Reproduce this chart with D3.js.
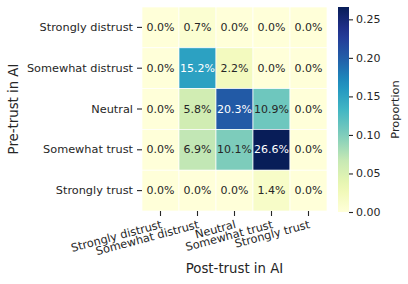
<!DOCTYPE html>
<html><head><meta charset="utf-8">
<script src="https://cdn.jsdelivr.net/npm/d3@7"></script>
<style>body{margin:0;background:#fff}svg{display:block}text{font-family:"DejaVu Sans",sans-serif;fill:#262626}</style>
</head><body><svg id="c" width="408" height="284"></svg>
<script>
const rowLabels = ["Strongly distrust","Somewhat distrust","Neutral","Somewhat trust","Strongly trust"];
const colLabels = ["Strongly distrust","Somewhat distrust","Neutral","Somewhat trust","Strongly trust"];
const values = [
  [0.000,0.007,0.000,0.000,0.000],
  [0.000,0.152,0.022,0.000,0.000],
  [0.000,0.058,0.203,0.109,0.000],
  [0.000,0.069,0.101,0.266,0.000],
  [0.000,0.000,0.000,0.014,0.000]
];
const cbTicks = [0,0.05,0.10,0.15,0.20,0.25];
const ylgnbu = ["#ffffd9","#edf8b1","#c7e9b4","#7fcdbb","#41b6c4","#1d91c0","#225ea8","#253494","#081d58"];

const svg = d3.select("#c");
const L=142,R=327,T=7,B=211;
const FS=11.3, CFS=11, TFS=13.3;
const vmax = d3.max(values.flat());
const color = d3.scaleLinear().domain(d3.range(9).map(i=>i*vmax/8)).range(ylgnbu).interpolate(d3.interpolateRgb).clamp(true);
const x = d3.scaleBand().domain(colLabels.map((d,i)=>i)).range([L,R]);
const y = d3.scaleBand().domain(rowLabels.map((d,i)=>i)).range([T,B]);
const cells=[];
values.forEach((r,i)=>r.forEach((v,j)=>cells.push({i,j,v})));
svg.append("g").selectAll("rect").data(cells).join("rect")
  .attr("x",d=>x(d.j)).attr("y",d=>y(d.i)).attr("width",x.bandwidth()).attr("height",y.bandwidth())
  .attr("fill",d=>color(d.v)).attr("stroke","#fff").attr("stroke-width",0.7);
function lum(c){const q=d3.rgb(c);const f=u=>{u/=255;return u<=0.03928?u/12.92:Math.pow((u+0.055)/1.055,2.4)};return 0.2126*f(q.r)+0.7152*f(q.g)+0.0722*f(q.b);}
svg.append("g").selectAll("text").data(cells).join("text")
  .attr("x",d=>x(d.j)+x.bandwidth()/2).attr("y",d=>y(d.i)+y.bandwidth()/2)
  .attr("text-anchor","middle").attr("dominant-baseline","central").attr("font-size",CFS)
  .style("fill",d=>lum(color(d.v))>0.408?"#262626":"#ffffff")
  .text(d=>(d.v*100).toFixed(1)+"%");
// y axis
const yAx = svg.append("g").attr("transform",`translate(${L},0)`)
  .call(d3.axisLeft(y).tickSize(5).tickPadding(4).tickFormat(i=>rowLabels[i]));
yAx.select(".domain").remove();
yAx.selectAll("line").attr("stroke","#262626").attr("stroke-width",1.1);
yAx.selectAll("text").attr("font-size",FS).style("fill","#262626").attr("font-family","DejaVu Sans");
// x axis
const xAx = svg.append("g").attr("transform",`translate(0,${B})`)
  .call(d3.axisBottom(x).tickSize(5).tickPadding(3).tickFormat(i=>colLabels[i]));
xAx.select(".domain").remove();
xAx.selectAll("line").attr("stroke","#262626").attr("stroke-width",1.1);
xAx.selectAll("text").attr("font-size",FS).style("fill","#262626").attr("font-family","DejaVu Sans")
  .attr("text-anchor","end").attr("dy","0.71em").attr("y",0).attr("transform","translate(0,9) rotate(-15)");
svg.append("text").attr("x",(L+R)/2).attr("y",273).attr("text-anchor","middle").attr("font-size",TFS).text("Post-trust in AI");
svg.append("text").attr("transform",`translate(18,${(T+B)/2}) rotate(-90)`).attr("text-anchor","middle").attr("font-size",TFS).text("Pre-trust in AI");
// colorbar
const CL=338,CR=349,CT=7,CB=212;
const cy = d3.scaleLinear().domain([0,vmax]).range([CB,CT]);
const defs=svg.append("defs");
const grad=defs.append("linearGradient").attr("id","g").attr("x1",0).attr("y1",1).attr("x2",0).attr("y2",0);
d3.range(0,1.0001,0.05).forEach(t=>grad.append("stop").attr("offset",t).attr("stop-color",color(t*vmax)));
svg.append("rect").attr("x",CL).attr("y",CT).attr("width",CR-CL).attr("height",CB-CT).attr("fill","url(#g)");
const cAx=svg.append("g").attr("transform",`translate(${CR},0)`).call(d3.axisRight(cy).tickValues(cbTicks).tickSize(4).tickPadding(3).tickFormat(d3.format(".2f")));
cAx.select(".domain").remove();
cAx.selectAll("line").attr("stroke","#262626").attr("stroke-width",1.1);
cAx.selectAll("text").attr("font-size",CFS).style("fill","#262626").attr("font-family","DejaVu Sans");
svg.append("text").attr("transform",`translate(399,${(CT+CB)/2}) rotate(-90)`).attr("text-anchor","middle").attr("font-size",FS).text("Proportion");
</script></body></html>
